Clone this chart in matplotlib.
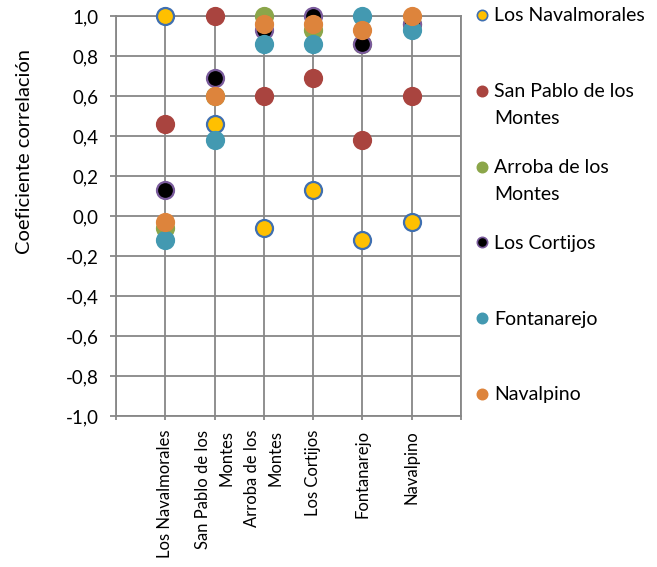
'''
correlation coefficients between towns, one series per town
'''

import numpy as np
import matplotlib.pyplot as plt
from matplotlib.transforms import offset_copy

plt.rcParams['font.family'] = ['Lato', 'DejaVu Sans']

towns = [
"Los Navalmorales",
"San Pablo de los\nMontes",
"Arroba de los\nMontes",
"Los Cortijos",
"Fontanarejo",
"Navalpino"
]

# one row per series, one value per town on the x axis
los_navalmorales = [1.00, 0.46, -0.06, 0.13, -0.12, -0.03]
san_pablo = [0.46, 1.00, 0.60, 0.69, 0.38, 0.60]
arroba = [-0.06, 0.60, 1.00, 0.93, 0.86, 0.96]
los_cortijos = [0.13, 0.69, 0.93, 1.00, 0.86, 0.96]
fontanarejo = [-0.12, 0.38, 0.86, 0.86, 1.00, 0.93]
navalpino = [-0.03, 0.60, 0.96, 0.96, 0.93, 1.00]

series = [los_navalmorales, san_pablo, arroba, los_cortijos, fontanarejo, navalpino]

fills = ["#FFC000", "#A9443F", "#8BA64A", "#000000", "#4399B1", "#DD843C"]
edges = ["#3F6FB0", "#A9443F", "#8BA64A", "#7A5B9C", "#4399B1", "#DD843C"]

GRID = "#878787"

fig = plt.figure(figsize=(6.57, 5.67), dpi=100)
ax = fig.add_axes([116/657, 1 - 416/567, 345/657, 400/567])

x_pos = np.arange(1, len(towns) + 1)
for vals, fc, ec in zip(series, fills, edges):
    ax.scatter(x_pos, vals, s=150, c=fc, edgecolors=ec, linewidths=1.6, zorder=3, clip_on=False)

ax.set_xlim(0, 7)
ax.set_ylim(-1, 1)
ax.set_xticks(np.arange(0, 8))
ax.set_xticklabels([''] + towns + [''], rotation=90, fontsize=12, va='top', ha='center', multialignment='right')
for t in ax.get_xticklabels():
    t.set_linespacing(1.55)
yt = np.round(np.arange(-1, 1.01, 0.2), 1) + 0.0
ax.set_yticks(yt)
ax.set_yticklabels([f"{v:.1f}".replace('.', ',').replace('-0,0', '0,0') for v in yt], fontsize=13.5)
ax.tick_params(axis='y', length=4.3, width=1.3, color=GRID, pad=8)
ax.tick_params(axis='x', length=3, width=1.3, color=GRID, pad=7)
ax.grid(True, color=GRID, linewidth=1.3)
ax.set_axisbelow(True)
for sp in ax.spines.values():
    sp.set_color(GRID)
    sp.set_linewidth(1.3)

ax.set_ylabel('Coeficiente correlación', fontsize=14.5)
ax.yaxis.set_label_coords(-0.242, 0.6625)

# legend on the right
lax = fig.add_axes([470/657, 0, 187/657, 1])
lax.set_xlim(0, 187)
lax.set_ylim(-(567 - 15)/75.8, 15/75.8)
lax.axis('off')
txt_tr = offset_copy(lax.transData, fig=fig, y=5.5, units='points')
for i, (name, fc, ec) in enumerate(zip(towns, fills, edges)):
    lax.scatter(12, -i, s=55, c=fc, edgecolors=ec, linewidths=1.2, clip_on=False)
    lax.text(24, -i, name, fontsize=14, va='top', ha='left', linespacing=1.7, transform=txt_tr)

plt.savefig('out.png', dpi=100)
